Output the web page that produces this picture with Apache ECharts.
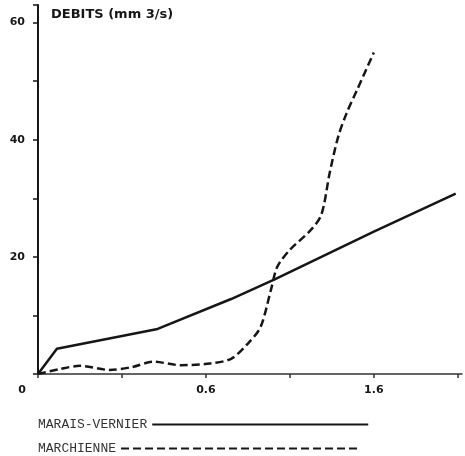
<!DOCTYPE html>
<html>
<head>
<meta charset="utf-8">
<script src="https://cdn.jsdelivr.net/npm/echarts@6/dist/echarts.min.js"></script>
<style>
  html, body { margin: 0; padding: 0; background: #fff; }
  #chart { width: 465px; height: 456px; }
</style>
</head>
<body>
<div id="chart"></div>
<script>
// courbe MARAIS-VERNIER (trait plein)
const maraisVernier = [
  [0, 0], [0.09, 4.3], [0.57, 7.7], [0.92, 12.8], [1.13, 16.2], [1.6, 24.3], [1.99, 30.8]
];
// courbe MARCHIENNE (tirets)
const marchienne = [
  [0, 0], [0.1, 0.8], [0.2, 1.4], [0.34, 0.7], [0.45, 1.2], [0.55, 2.1], [0.68, 1.5],
  [0.82, 1.8], [0.92, 2.6], [1.0, 5.2], [1.06, 8], [1.11, 14.4], [1.14, 18.3],
  [1.2, 21.2], [1.3, 24.6], [1.35, 27.2], [1.39, 34.4], [1.43, 40.5], [1.47, 44.5],
  [1.52, 48.5], [1.6, 54.9]
];
const xTickValues = [0, 0.8, 1.6];
const xTickLabels = ['0', '0.6', '1.6'];
const yTickValues = [20, 40, 60];
const seriesNames = ['MARAIS-VERNIER', 'MARCHIENNE'];

const ink = '#161616';
const labelFont = { color: ink, fontSize: 11, fontWeight: 'bold', fontFamily: 'DejaVu Sans' };
const legendText = { color: '#333', fontSize: 13, fontFamily: 'Liberation Mono', padding: [0, 0, 6, 0] };

const chart = echarts.init(document.getElementById('chart'));
chart.setOption({
  animation: false,
  backgroundColor: '#fff',
  title: {
    text: 'DEBITS (mm 3/s)',
    left: 46, top: 3,
    textStyle: { color: ink, fontSize: 13, fontWeight: 'bold', fontFamily: 'DejaVu Sans' }
  },
  grid: { left: 38, top: 5, width: 424, bottom: 82, containLabel: false },
  xAxis: {
    type: 'value', min: 0, max: 2.02, interval: 0.4,
    splitLine: { show: false },
    axisLine: { lineStyle: { color: '#333', width: 1.5 } },
    axisTick: { show: true, length: 4, lineStyle: { color: '#333', width: 1.5 } },
    axisLabel: Object.assign({}, labelFont, {
      margin: 11,
      showMaxLabel: false,
      formatter: (v) => {
        const i = xTickValues.findIndex(t => Math.abs(t - v) < 1e-6);
        if (i < 0) return '';
        return i === 0 ? '{z|' + xTickLabels[0] + '}' : xTickLabels[i];
      },
      rich: { z: Object.assign({}, labelFont, { padding: [0, 32, 0, 0] }) }
    })
  },
  yAxis: {
    type: 'value', min: 0, max: 63, interval: 10,
    splitLine: { show: false },
    axisLine: { lineStyle: { color: ink, width: 2 } },
    axisTick: { show: true, length: 5, lineStyle: { color: ink, width: 1.5 } },
    axisLabel: Object.assign({}, labelFont, {
      margin: 13,
      showMaxLabel: true,
      formatter: (v) => yTickValues.includes(Math.round(v)) ? String(Math.round(v)) : ''
    })
  },
  legend: [
    {
      data: [seriesNames[0]], orient: 'vertical', left: 38, top: 418, align: 'right', padding: 0,
      itemWidth: 216, itemHeight: 14, selectedMode: false,
      itemStyle: { opacity: 0 },
      textStyle: legendText
    },
    {
      data: [seriesNames[1]], orient: 'vertical', left: 38, top: 442, align: 'right', padding: 0,
      itemWidth: 239, itemHeight: 14, selectedMode: false,
      itemStyle: { opacity: 0 },
      textStyle: legendText
    }
  ],
  series: [
    {
      name: seriesNames[0], type: 'line', data: maraisVernier,
      symbol: 'none', smooth: false,
      lineStyle: { color: ink, width: 2.5 },
      itemStyle: { color: ink }
    },
    {
      name: seriesNames[1], type: 'line', data: marchienne,
      symbol: 'none', smooth: 0.3,
      lineStyle: { color: ink, width: 2.5, type: [8, 4] },
      itemStyle: { color: ink }
    }
  ]
});
</script>
</body>
</html>
